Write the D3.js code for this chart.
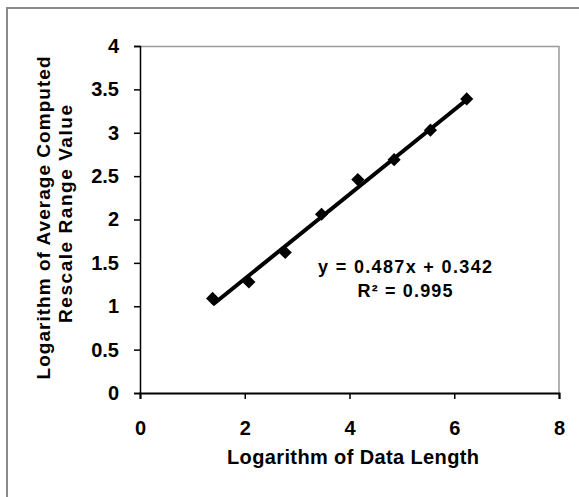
<!DOCTYPE html>
<html>
<head>
<meta charset="utf-8">
<script src="https://cdn.jsdelivr.net/npm/d3@7"></script>
<style>
  body { margin: 0; background: #fff; }
  text { font-family: "Liberation Sans", Arial, sans-serif; font-weight: bold; fill: #000; }
</style>
</head>
<body>
<div id="chart"></div>
<script>
// dades: log de la longitud (ln 4 ... ln 512) i log del R/S mitjà
const logLength = [1.386, 2.079, 2.773, 3.466, 4.159, 4.852, 5.545, 6.238];
const logRS = [1.09, 1.28, 1.62, 2.06, 2.46, 2.69, 3.03, 3.39];
const xTicks = [0, 2, 4, 6, 8];
const yTicks = [0, 0.5, 1, 1.5, 2, 2.5, 3, 3.5, 4];
const trendSlope = 0.487;
const trendIntercept = 0.342;
const trendText = ["y = 0.487x + 0.342", "R² = 0.995"];

const W = 579, H = 497;
const margin = {top: 46, right: 20, bottom: 104, left: 140};
const width = 559 - margin.left;
const height = 393 - margin.top;

const root = d3.select("#chart").append("svg")
    .attr("width", W)
    .attr("height", H);

// marc exterior
root.append("rect")
    .attr("x", 7).attr("y", 8)
    .attr("width", 620).attr("height", 520)
    .attr("fill", "none")
    .attr("stroke", "#8a8a8a")
    .attr("stroke-width", 2);

const svg = root.append("g")
    .attr("transform", `translate(${margin.left}, ${margin.top})`);

const x = d3.scaleLinear().domain([0, 8]).range([0, width]);
const y = d3.scaleLinear().domain([0, 4]).range([height, 0]);

// vora de l'area de dibuix (dalt i dreta)
svg.append("path")
    .attr("d", `M0,0.5H${width}V${height}`)
    .attr("fill", "none")
    .attr("stroke", "#9a9a9a")
    .attr("stroke-width", 1.5);

// Eix Y
const gy = svg.append("g")
    .call(d3.axisLeft(y).tickValues(yTicks).tickSize(6).tickPadding(15).tickFormat(d3.format("")));
gy.select(".domain").attr("stroke-width", 1.5);
gy.selectAll(".tick line").attr("stroke-width", 1.5);
gy.selectAll("text").style("font-size", "20px");

// Eix X
const gx = svg.append("g")
    .attr("transform", `translate(0, ${height})`)
    .call(d3.axisBottom(x).tickValues(xTicks).tickSize(6).tickSizeOuter(6).tickPadding(22));
gx.select(".domain").attr("stroke-width", 2);
gx.selectAll(".tick line").attr("stroke-width", 1.5);
gx.selectAll("text").style("font-size", "20px");

// línia de tendència
const xr = d3.extent(logLength);
svg.append("line")
    .attr("x1", x(xr[0])).attr("y1", y(trendSlope * xr[0] + trendIntercept))
    .attr("x2", x(xr[1])).attr("y2", y(trendSlope * xr[1] + trendIntercept))
    .attr("stroke", "#000")
    .attr("stroke-width", 4);

// punts
svg.selectAll(".punt")
    .data(logLength)
    .enter()
    .append("path")
        .attr("class", "punt")
        .attr("d", d3.symbol().type(d3.symbolDiamond2).size(110))
        .attr("transform", (d, i) => `translate(${x(d)}, ${y(logRS[i])})`)
        .attr("fill", "#000");

// equació
svg.append("text")
    .attr("x", 405 - margin.left).attr("y", 273 - margin.top)
    .attr("text-anchor", "middle")
    .attr("textLength", 174).attr("lengthAdjust", "spacing")
    .style("font-size", "18px")
    .text(trendText[0]);
svg.append("text")
    .attr("x", 405 - margin.left).attr("y", 297 - margin.top)
    .attr("text-anchor", "middle")
    .attr("textLength", 95).attr("lengthAdjust", "spacing")
    .style("font-size", "18px")
    .text(trendText[1]);

// títol eix X
root.append("text")
    .attr("x", 353).attr("y", 464)
    .attr("text-anchor", "middle")
    .attr("textLength", 252).attr("lengthAdjust", "spacing")
    .style("font-size", "20px")
    .text("Logarithm of Data Length");

// títol eix Y (dues línies)
root.append("text")
    .attr("transform", "translate(50, 218) rotate(-90)")
    .attr("text-anchor", "middle")
    .attr("textLength", 323).attr("lengthAdjust", "spacing")
    .style("font-size", "19px")
    .text("Logarithm of Average Computed");
root.append("text")
    .attr("transform", "translate(72, 214) rotate(-90)")
    .attr("text-anchor", "middle")
    .attr("textLength", 218).attr("lengthAdjust", "spacing")
    .style("font-size", "19px")
    .text("Rescale Range Value");
</script>
</body>
</html>
